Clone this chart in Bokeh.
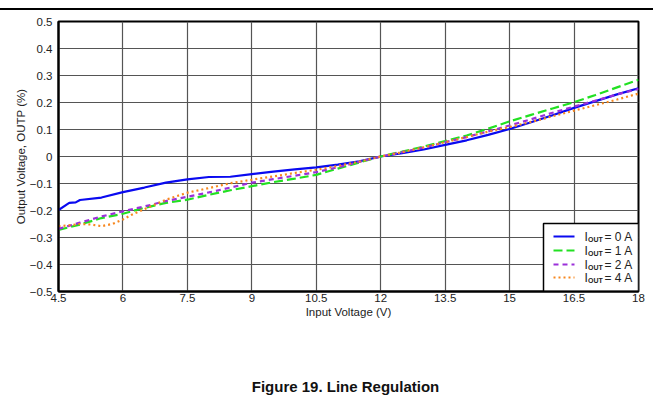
from bokeh.plotting import figure
from bokeh.layouts import column
from bokeh.models import FixedTicker, Label, Div
from bokeh.embed import file_html
from bokeh.resources import INLINE

# ---- data ----
v_common = [4.5, 5.0, 5.5, 6.0, 6.5, 7.0, 7.5, 8.0, 8.5, 9.0, 9.5, 10.0, 10.5, 11.0, 11.5,
            12.0, 12.5, 13.0, 13.5, 14.0, 14.5, 15.0, 15.5, 16.0, 16.5, 17.0, 17.5, 18.0]
v_0a = [4.5, 4.75, 4.9, 5.0, 5.5, 6.0, 6.5, 7.0, 7.5, 8.0, 8.5, 9.0, 9.5, 10.0, 10.5, 11.0, 11.5,
        12.0, 12.5, 13.0, 13.5, 14.0, 14.5, 15.0, 15.5, 16.0, 16.5, 17.0, 17.5, 18.0]
out_0a = [-0.198, -0.172, -0.170, -0.161, -0.152, -0.132, -0.115, -0.097, -0.085, -0.076, -0.075,
          -0.065, -0.056, -0.048, -0.040, -0.030, -0.018, 0.0, 0.012, 0.026, 0.043, 0.060, 0.080,
          0.102, 0.127, 0.153, 0.180, 0.205, 0.230, 0.253]
out_1a = [-0.272, -0.252, -0.228, -0.212, -0.190, -0.172, -0.160, -0.142, -0.125, -0.110, -0.095,
          -0.082, -0.068, -0.045, -0.022, 0.0, 0.018, 0.037, 0.057, 0.078, 0.103, 0.130, 0.154,
          0.178, 0.201, 0.228, 0.256, 0.284]
out_2a = [-0.268, -0.245, -0.222, -0.203, -0.185, -0.165, -0.149, -0.133, -0.115, -0.097, -0.084,
          -0.071, -0.058, -0.040, -0.020, 0.0, 0.016, 0.033, 0.053, 0.072, 0.093, 0.115, 0.138,
          0.162, 0.185, 0.207, 0.230, 0.250]
v_4a = [4.5, 4.75, 5.0, 5.25, 5.5, 5.75, 6.0, 6.25, 6.5, 7.0, 7.5, 8.0, 8.5, 9.0, 9.5, 10.0, 10.5,
        11.0, 11.5, 12.0, 12.5, 13.0, 13.5, 14.0, 14.5, 15.0, 15.5, 16.0, 16.5, 17.0, 17.5, 18.0]
out_4a = [-0.258, -0.255, -0.250, -0.252, -0.258, -0.250, -0.233, -0.212, -0.195, -0.160, -0.134,
          -0.117, -0.099, -0.086, -0.074, -0.061, -0.049, -0.035, -0.019, 0.0, 0.016, 0.034, 0.053,
          0.072, 0.092, 0.109, 0.128, 0.149, 0.170, 0.190, 0.211, 0.233]

x_ticks = [4.5, 6, 7.5, 9, 10.5, 12, 13.5, 15, 16.5, 18]
x_tick_labels = ["4.5", "6", "7.5", "9", "10.5", "12", "13.5", "15", "16.5", "18"]
y_ticks = [-0.5, -0.4, -0.3, -0.2, -0.1, 0, 0.1, 0.2, 0.3, 0.4, 0.5]
y_tick_labels = ["\u22120.5", "\u22120.4", "\u22120.3", "\u22120.2", "\u22120.1", "0",
                 "0.1", "0.2", "0.3", "0.4", "0.5"]
legend_labels = ["= 0 A", "= 1 A", "= 2 A", "= 4 A"]
caption_text = "Figure 19. Line Regulation"

FONT = "Liberation Sans"

p = figure(width=653, height=367, x_range=(4.5, 18), y_range=(-0.5, 0.5),
           output_backend="svg", toolbar_location=None,
           min_border_left=58, min_border_right=15, min_border_top=11, min_border_bottom=86)
p.styles = {"border-top": "2px solid black", "margin-top": "8px"}
p.background_fill_color = "white"
p.border_fill_color = "white"
p.outline_line_color = "black"
p.outline_line_width = 2

p.xaxis.ticker = FixedTicker(ticks=x_ticks)
p.yaxis.ticker = FixedTicker(ticks=y_ticks)
p.xaxis.major_label_overrides = {t: l for t, l in zip(x_ticks, x_tick_labels)}
p.yaxis.major_label_overrides = {t: l for t, l in zip(y_ticks, y_tick_labels)}
for ax in (p.xaxis, p.yaxis):
    ax.major_tick_in = 0
    ax.major_tick_out = 0
    ax.minor_tick_in = 0
    ax.minor_tick_out = 0
    ax.axis_line_color = "black"
    ax.axis_line_width = 2
    ax.major_label_text_font = FONT
    ax.major_label_text_font_size = "11.5px"
    ax.major_label_text_color = "#222222"
    ax.axis_label_text_font = FONT
    ax.axis_label_text_font_size = "11.5px"
    ax.axis_label_text_font_style = "normal"
    ax.axis_label_text_color = "#222222"
p.xaxis.axis_label = "Input Voltage (V)"
p.yaxis.axis_label = "Output Voltage, OUTP (%)"
p.xaxis.major_label_standoff = 2
p.xaxis.axis_label_standoff = 1
p.yaxis.major_label_standoff = 6
p.yaxis.axis_label_standoff = 0

p.xgrid.ticker = FixedTicker(ticks=x_ticks)
p.ygrid.ticker = FixedTicker(ticks=y_ticks)
p.grid.grid_line_color = "#555555"
p.grid.grid_line_width = 1.2

colors = ["#0a0af0", "#22e022", "#9b30d9", "#f7871e"]
dashes = ["solid", "9 4", "5 4", "2 3"]
series = [(v_0a, out_0a), (v_common, out_1a), (v_common, out_2a), (v_4a, out_4a)]
for (xs, ys), c, d in zip(series, colors, dashes):
    p.line(xs, ys, line_color=c, line_width=2.2, line_dash=d)


# ---- legend (drawn manually for the subscripted labels) ----
def px_to_x(px):
    return 4.5 + (px - 58) / 580 * 13.5


def py_to_y(py):
    return 0.5 - (py - 21) / 270


p.quad(left=[px_to_x(543)], right=[18], top=[py_to_y(223)], bottom=[-0.5],
       fill_color="white", line_color="black", line_width=1.5)
entry_py = [236, 250, 264, 277]
for lab, c, d, py in zip(legend_labels, colors, dashes, entry_py):
    yy = py_to_y(py)
    p.line([px_to_x(553), px_to_x(574)], [yy, yy], line_color=c, line_width=2.2, line_dash=d)
    p.add_layout(Label(x=px_to_x(584), y=yy, text="I", text_font=FONT, text_font_size="12px",
                       text_baseline="middle", text_color="#222222"))
    p.add_layout(Label(x=px_to_x(587.5), y=py_to_y(py + 2.5), text="OUT", text_font=FONT,
                       text_font_size="7px", text_font_style="bold",
                       text_baseline="middle", text_color="#222222"))
    p.add_layout(Label(x=px_to_x(604), y=yy, text=lab, text_font=FONT, text_font_size="12px",
                       text_baseline="middle", text_color="#222222"))

p.add_layout(Label(x=px_to_x(637), y=py_to_y(337), text="G000", text_font=FONT,
                   text_font_size="6px", text_baseline="middle", text_color="#777777"))

cap = Div(text=f'<span style="position:relative;left:14px;top:-2px">{caption_text}</span>',
          width=653, height=30,
          styles={"font-family": FONT, "font-size": "15px", "font-weight": "bold",
                  "text-align": "center", "line-height": "17px", "color": "#111111"})

layout = column(p, cap, spacing=0)
open("out.html", "w").write(file_html(layout, INLINE))
